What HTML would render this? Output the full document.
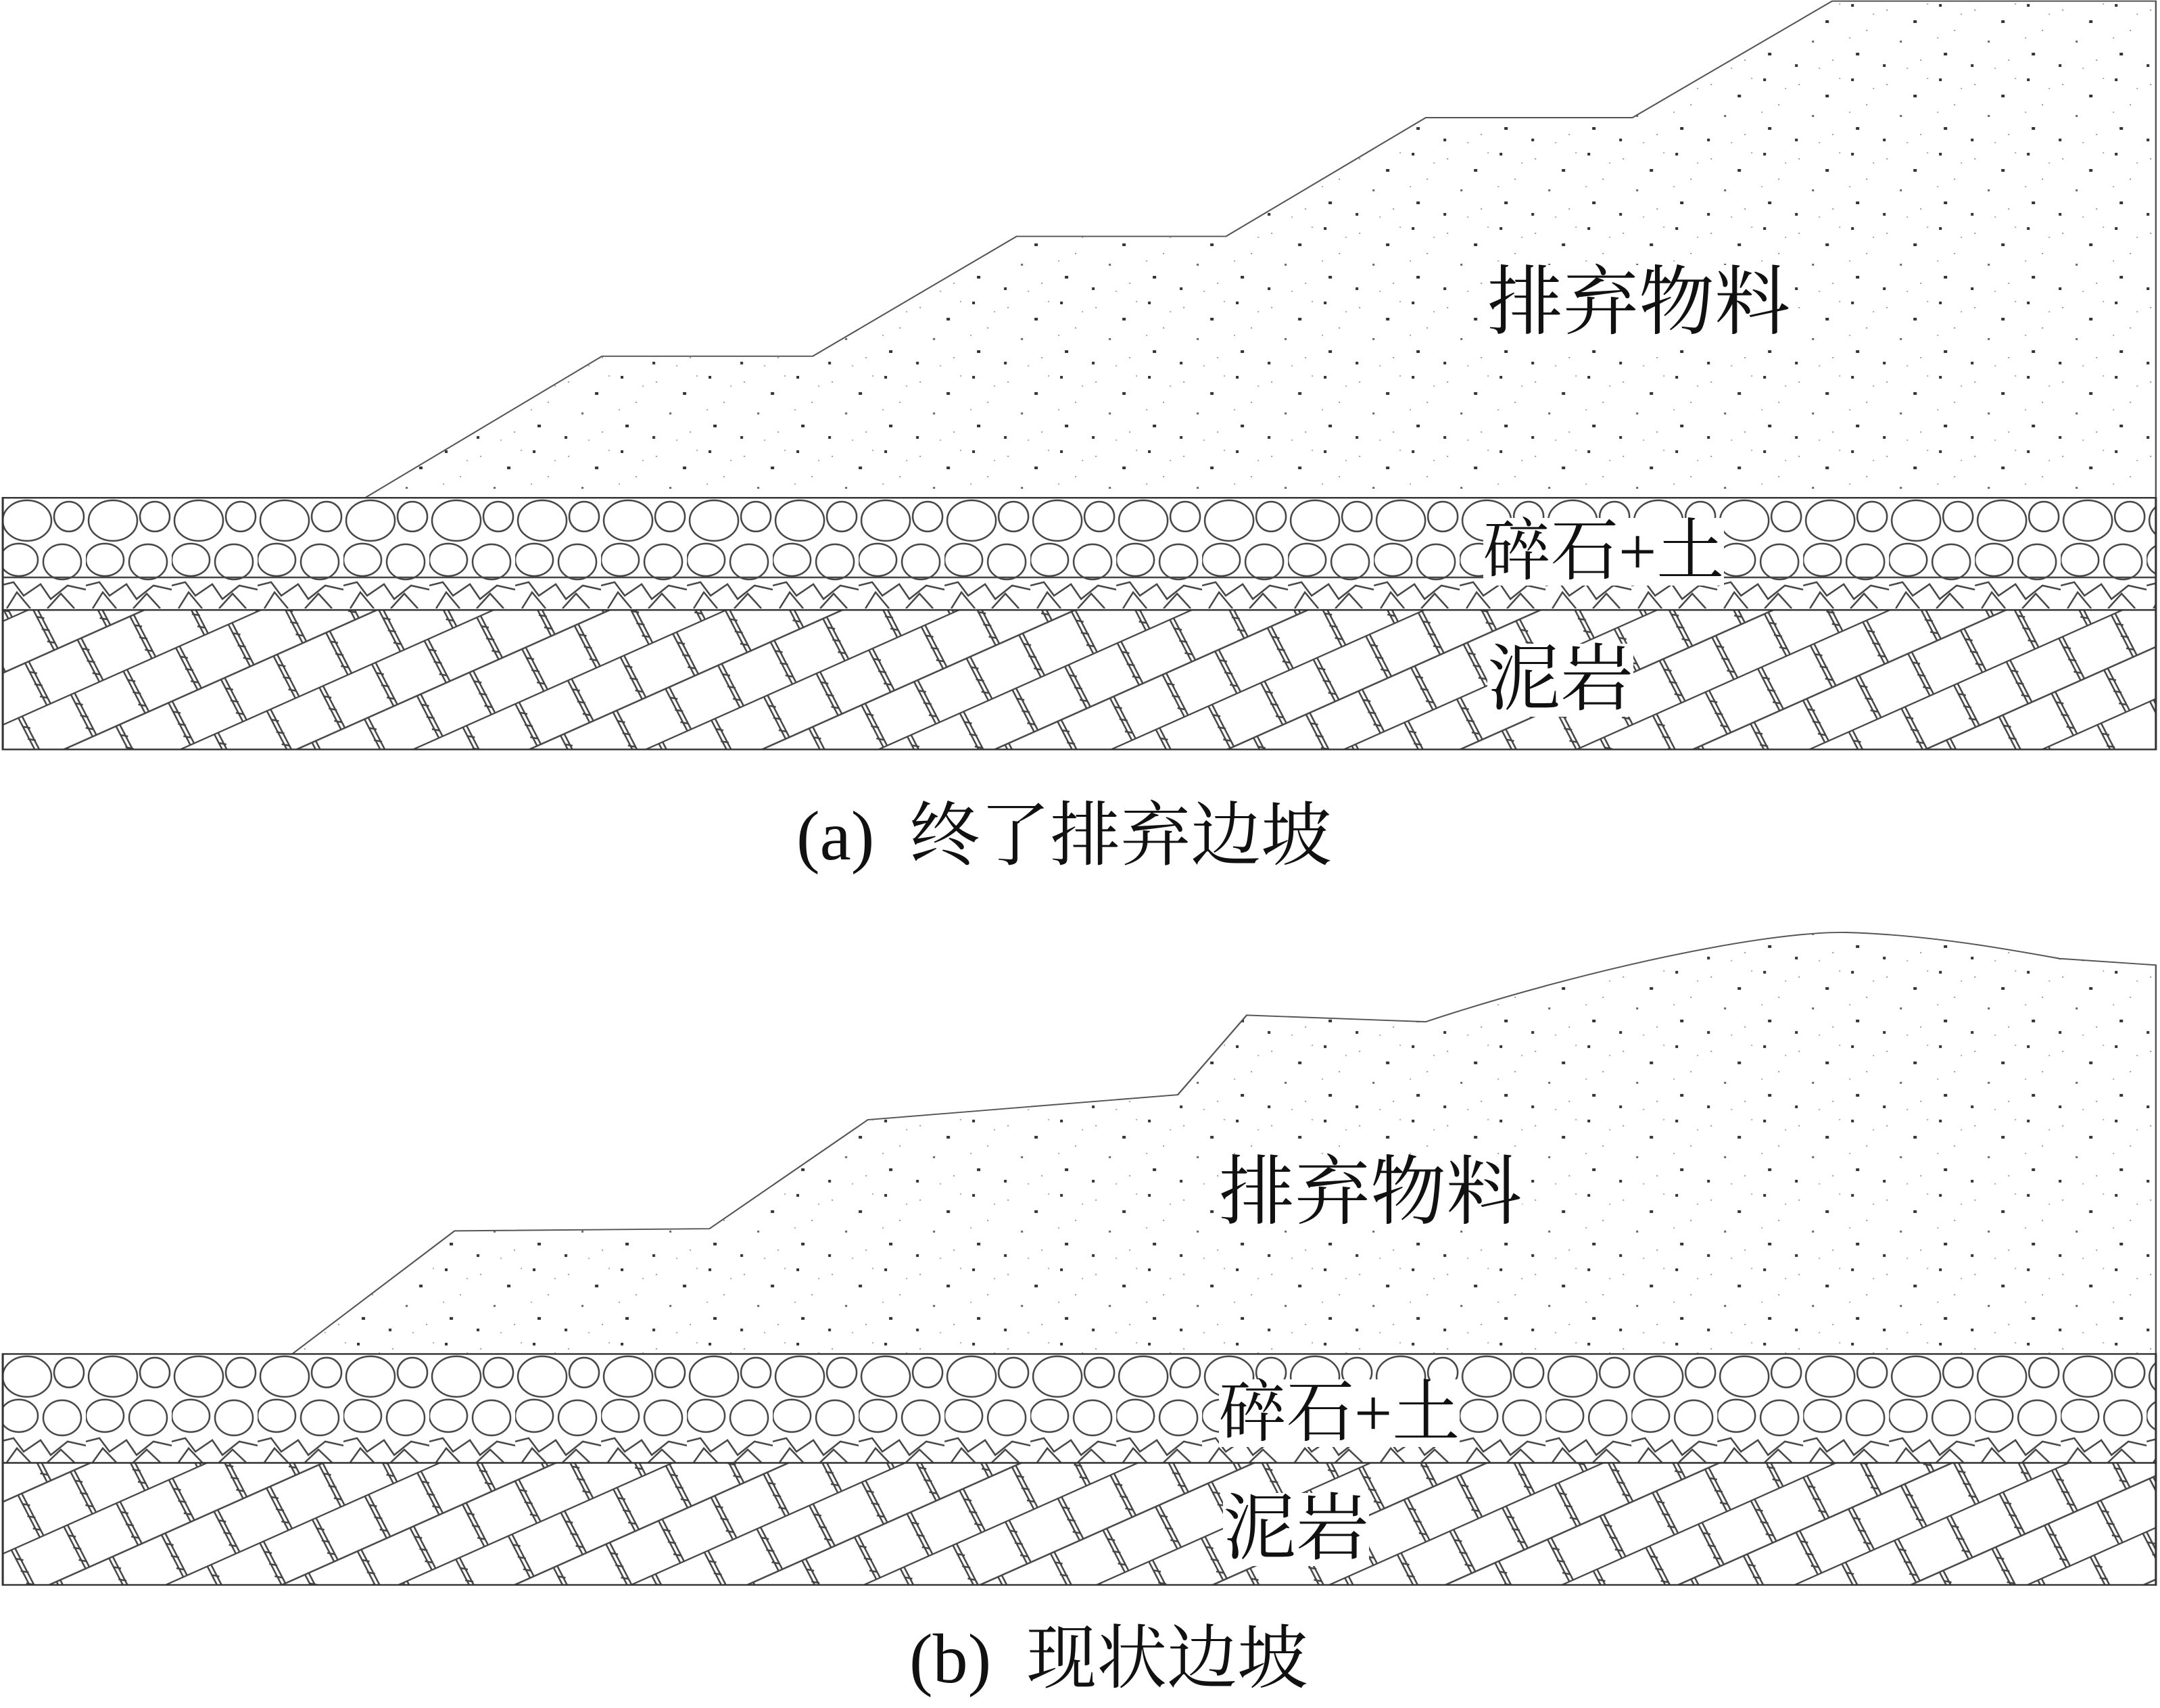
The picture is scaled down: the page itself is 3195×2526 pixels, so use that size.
<!DOCTYPE html>
<html><head><meta charset="utf-8"><style>
html,body{margin:0;padding:0;background:#fff;}
#w{position:relative;width:3195px;height:2526px;overflow:hidden;}
svg{position:absolute;left:0;top:0;}
.t{position:absolute;font-family:"Liberation Serif","Noto Serif CJK SC","Noto Sans CJK SC",serif;color:#111;white-space:nowrap;line-height:1;}
</style></head><body><div id="w">
<svg width="3195" height="2526" viewBox="0 0 1568 1568" preserveAspectRatio="none">
<defs>
<pattern id="dots" width="130" height="110" patternUnits="userSpaceOnUse" patternTransform="scale(0.4908,0.6207)">
<rect width="130" height="110" fill="#fff"/>
<g fill="#333">
<rect x="8" y="6" width="4" height="4"/><rect x="60" y="14" width="2" height="2" fill="#999"/>
<rect x="100" y="30" width="5" height="4"/><rect x="30" y="44" width="2" height="2" fill="#999"/>
<rect x="80" y="60" width="3" height="3" fill="#666"/><rect x="15" y="78" width="5" height="4"/>
<rect x="110" y="88" width="2" height="2" fill="#999"/><rect x="55" y="95" width="4" height="4"/>
<rect x="40" y="20" width="2" height="2" fill="#aaa"/><rect x="120" y="5" width="2" height="2" fill="#aaa"/>
<rect x="90" y="100" width="2" height="2" fill="#aaa"/><rect x="5" y="55" width="2" height="2" fill="#aaa"/>
</g></pattern>
<pattern id="grava" x="0" y="736" width="127" height="164" patternUnits="userSpaceOnUse" patternTransform="scale(0.4908,0.6207)">
<rect width="127" height="164" fill="#fff"/>
<g fill="none" stroke="#444" stroke-width="2.5">
<ellipse cx="40" cy="34" rx="36" ry="30"/><ellipse cx="102" cy="28" rx="22" ry="22"/>
<ellipse cx="28" cy="92" rx="28" ry="24"/><ellipse cx="92" cy="95" rx="28" ry="26"/>
<path d="M0 130 L20 125 L35 145 L60 128 L75 150 L100 130 L127 136 M10 164 L25 140 L45 164 M70 164 L90 142 L110 164 M0 118 L127 118"/>
</g></pattern>
<pattern id="gravb" x="0" y="2002" width="127" height="161" patternUnits="userSpaceOnUse" patternTransform="scale(0.4908,0.6207)">
<rect width="127" height="161" fill="#fff"/>
<g fill="none" stroke="#444" stroke-width="2.5">
<ellipse cx="40" cy="34" rx="36" ry="30"/><ellipse cx="102" cy="28" rx="22" ry="22"/>
<ellipse cx="28" cy="92" rx="28" ry="24"/><ellipse cx="92" cy="95" rx="28" ry="26"/>
<path d="M0 130 L20 125 L35 145 L60 128 L75 150 L100 130 L127 136 M10 161 L25 140 L45 161 M70 161 L90 142 L110 161"/>
</g></pattern>
<pattern id="rock" width="85" height="140" patternUnits="userSpaceOnUse" patternTransform="scale(0.4908,0.6207) rotate(-24)">
<rect width="85" height="140" fill="#fff"/>
<g stroke="#444" stroke-width="2.5" fill="none">
<line x1="0" y1="1" x2="85" y2="1"/><line x1="0" y1="71" x2="85" y2="71"/>
<path d="M18 2 L22 70 M24 2 L28 70 M18 15 L28 22 M18 35 L28 42 M18 55 L28 62"/>
<path d="M60 72 L64 140 M66 72 L70 140 M60 85 L70 92 M60 105 L70 112 M60 125 L70 132"/>
</g></pattern>
</defs>
<polygon points="265,457 437,327 590,327 738,217 890,217 1035,108 1185,108 1330,1 1565,1 1565,457" fill="url(#dots)" stroke="#555" stroke-width="1.2"/>
<rect x="2" y="457" width="1563" height="103" fill="url(#grava)" stroke="#333" stroke-width="1.5"/>
<rect x="2" y="560" width="1563" height="128" fill="url(#rock)" stroke="#333" stroke-width="1.5"/>
<path d="M210,1245 L330,1130 L515,1128 L630,1028 L855,1005 L905,932 L1035,938 C1150,890 1280,855 1340,856 C1400,858 1460,872 1495,880 L1565,886 L1565,1243 L210,1243 Z" fill="url(#dots)" stroke="#555" stroke-width="1.2"/>
<rect x="2" y="1243" width="1563" height="100" fill="url(#gravb)" stroke="#333" stroke-width="1.5"/>
<rect x="2" y="1343" width="1563" height="112" fill="url(#rock)" stroke="#333" stroke-width="1.5"/>
</svg>
<div class="t" style="left:2200px;top:392px;font-size:112px;background:#fff;">排弃物料</div>
<div class="t" style="left:2194px;top:766px;font-size:100px;background:#fff;">碎石+土</div>
<div class="t" style="left:2200px;top:952px;font-size:108px;background:#fff;">泥岩</div>
<div class="t" style="left:1178px;top:1185px;font-size:104px;">(a)&nbsp; 终了排弃边坡</div>
<div class="t" style="left:1803px;top:1708px;font-size:112px;background:#fff;">排弃物料</div>
<div class="t" style="left:1803px;top:2040px;font-size:100px;background:#fff;">碎石+土</div>
<div class="t" style="left:1809px;top:2208px;font-size:108px;background:#fff;">泥岩</div>
<div class="t" style="left:1345px;top:2402px;font-size:104px;">(b)&nbsp; 现状边坡</div>
</div></body></html>
